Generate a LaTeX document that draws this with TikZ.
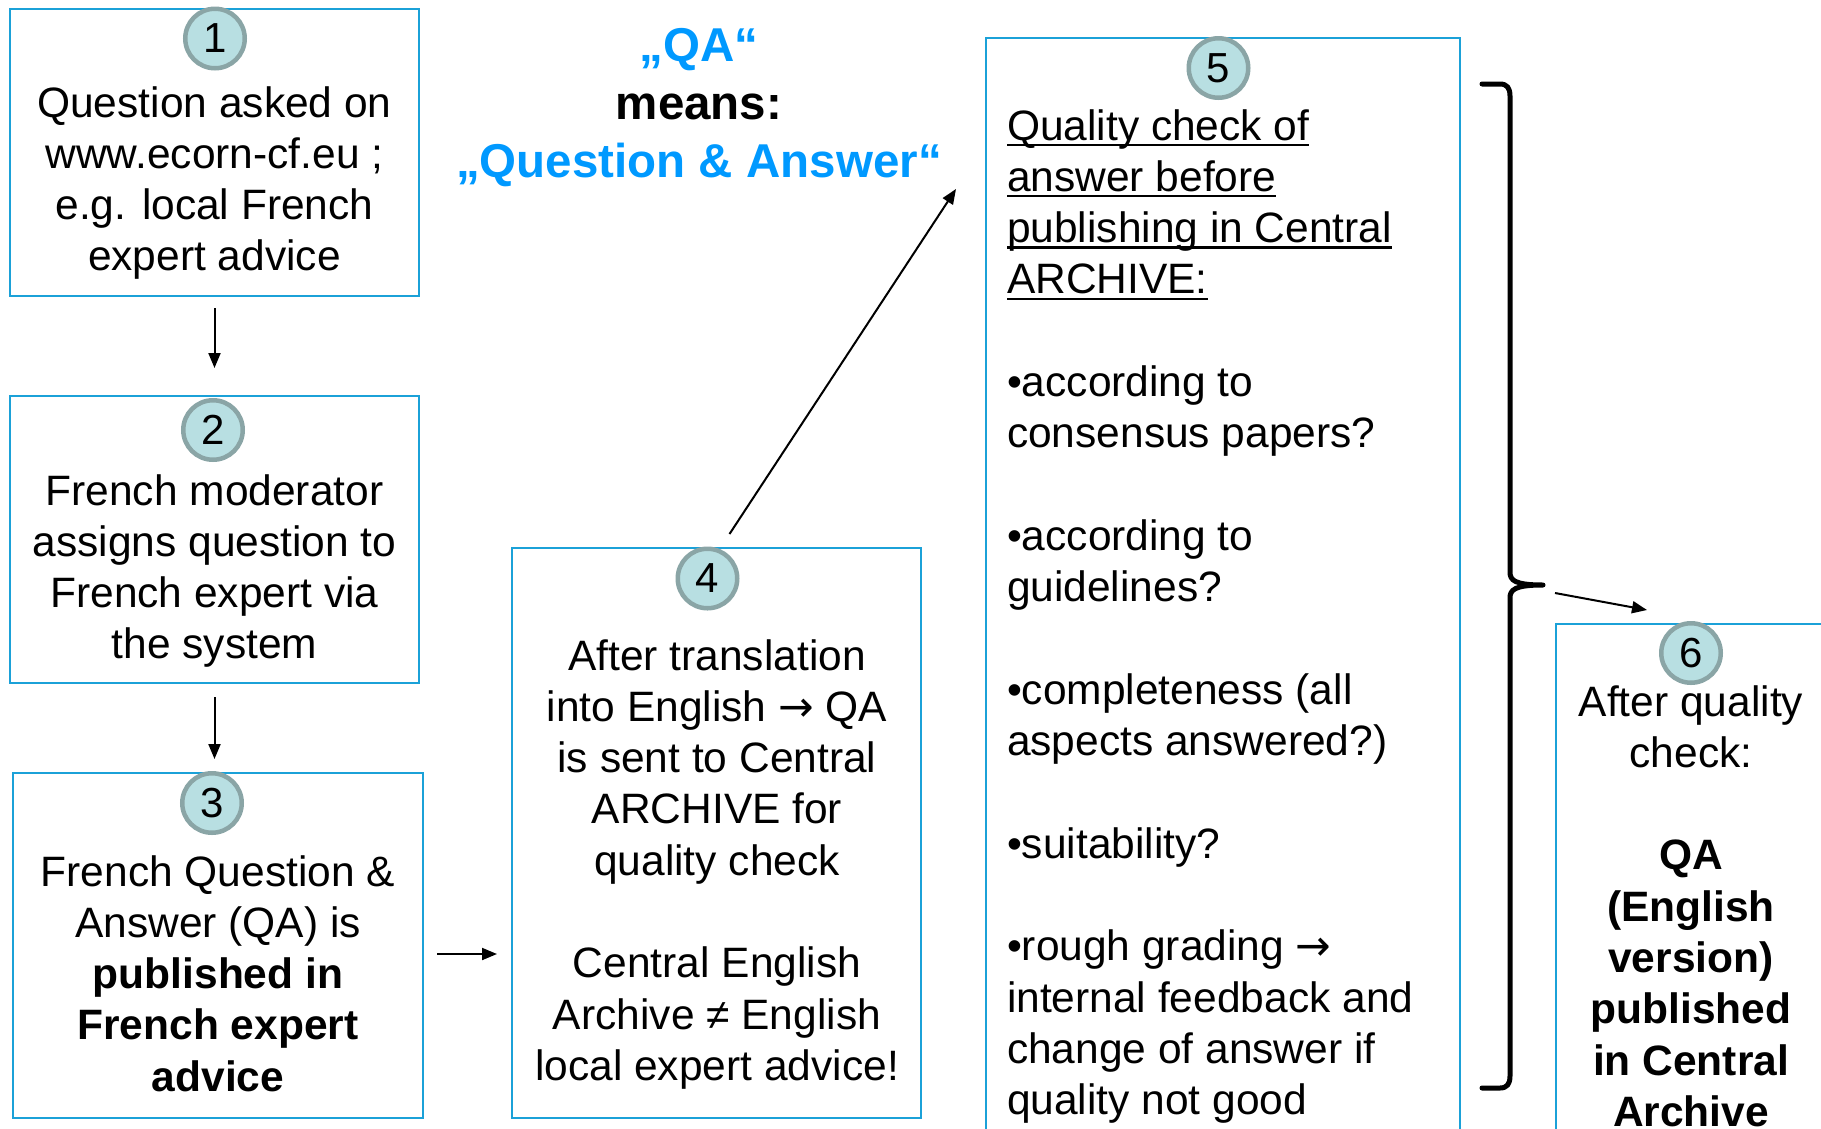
\documentclass[tikz,border=0pt]{standalone}
\usepackage{fontspec}
\setmainfont{Liberation Sans}
\newfontfamily\arrowfont{DejaVu Sans}
\usetikzlibrary{arrows.meta,calc}
\definecolor{boxblue}{HTML}{1BA1D8}
\definecolor{headblue}{HTML}{0099FF}
\definecolor{circfill}{HTML}{B8DFE2}
\definecolor{circline}{HTML}{8AA5A6}
\newcommand\bodyfont{\fontsize{42.5}{51.3}\selectfont}
\newcommand\headfont{\fontsize{47.5}{58}\selectfont\bfseries}
\newcommand\uln[1]{\setbox0\hbox{#1}\rlap{\rule[-6pt]{\wd0}{2.4pt}}\box0}
\newcommand\rarr{{\arrowfont →}}
\begin{document}
\begin{tikzpicture}[x=1pt,y=-1pt,
  box/.style={draw=boxblue,line width=2.5pt,fill=white,inner sep=0pt,outer sep=0pt,anchor=north west},
  num/.style={circle,draw=circline,fill=circfill,line width=4.5pt,minimum size=59.5pt,inner sep=0pt,outer sep=0pt,font=\fontsize{42}{42}\selectfont},
  txt/.style={inner sep=0pt,outer sep=0pt,anchor=base,font=\bodyfont},
  arr/.style={line width=2pt,-{Triangle[length=15pt,width=12pt]}},
  bracestyle/.style={line width=5pt,line cap=round,line join=round}]
\useasboundingbox (0,0) rectangle (1821,1128);

% boxes
\node[box,minimum width=409pt,minimum height=287pt] (b1) at (10,9) {};
\node[box,minimum width=409pt,minimum height=287pt] (b2) at (10,396) {};
\node[box,minimum width=410pt,minimum height=345pt] (b3) at (13,773) {};
\node[box,minimum width=409pt,minimum height=570pt] (b4) at (512,548) {};
\node[box,minimum width=474pt,minimum height=1110pt] (b5) at (986,38) {};
\node[box,minimum width=300pt,minimum height=520pt] (b6) at (1556,624) {};

% number circles
\node[num] (n1) at (215,38.5) {1};
\node[num] (n2) at (213,430) {2};
\node[num] (n3) at (212,803) {3};
\node[num] (n4) at (707.5,578.5) {4};
\node[num] (n5) at (1218.5,68) {5};
\node[num] (n6) at (1691,653) {6};

% heading
\node[inner sep=0pt,anchor=base,font=\headfont] (head) at (699,61)
  {\begin{tabular}[t]{@{}c@{}}{\color{headblue}„QA“}\\means:\\{\color{headblue}„Question \& Answer“}\end{tabular}};

% texts
\node[txt] (t1) at (214.5,117)
  {\begin{tabular}[t]{@{}c@{}}Question asked on\\www.ecorn-cf.eu ;\\e.g. local French\\expert advice\end{tabular}};
\node[txt] (t2) at (214.5,505)
  {\begin{tabular}[t]{@{}c@{}}French moderator\\assigns question to\\French expert via\\the system\end{tabular}};
\node[txt] (t3) at (218,886)
  {\begin{tabular}[t]{@{}c@{}}French Question \&\\Answer (QA) is\\\textbf{published in}\\\textbf{French expert}\\\textbf{advice}\end{tabular}};
\node[txt] (t4) at (717,670)
  {\begin{tabular}[t]{@{}c@{}}After translation\\into English \rarr{} QA\\is sent to Central\\ARCHIVE for\\quality check\\ \\Central English\\Archive ≠ English\\local expert advice!\end{tabular}};
\node[txt,anchor=base west] (t5) at (1007,140)
  {\begin{tabular}[t]{@{}l@{}}\uln{Quality check of}\\\uln{answer before}\\\uln{publishing in Central}\\\uln{ARCHIVE:}\\ \\•according to\\consensus papers?\\ \\•according to\\guidelines?\\ \\•completeness (all\\aspects answered?)\\ \\•suitability?\\ \\•rough grading \rarr\\internal feedback and\\change of answer if\\quality not good\end{tabular}};
\node[txt] (t6) at (1691,716)
  {\begin{tabular}[t]{@{}c@{}}After quality\\check:\\ \\\textbf{QA}\\\textbf{(English}\\\textbf{version)}\\\textbf{published}\\\textbf{in Central}\\\textbf{Archive}\end{tabular}};

% brace
\coordinate (brtip) at (1543,585);
\draw[bracestyle] (1482,84) -- (1500,84) .. controls (1507,84) and (1510,88) .. (1510,96)
  -- (1510,572) .. controls (1510,580) and (1514,585) .. (brtip)
  .. controls (1514,585) and (1510,590) .. (1510,598)
  -- (1510,1076) .. controls (1510,1084) and (1507,1088) .. (1500,1088) -- (1482,1088);

% connectors
\draw[arr,shorten <=12pt,shorten >=28pt] (b1.south) -- (b2.north);
\draw[arr,shorten <=14pt,shorten >=14pt] (b2.south) -- (b2.south |- b3.north);
\draw[arr,shorten <=14pt,shorten >=15pt] ($(b3.east)+(0,8.5)$) -- ($(b3.east -| b4.west)+(0,8.5)$);
\coordinate (s45) at ($(b4.north)+(13,-14)$);
\coordinate (e45) at ($(b5.north west)+(-30,151)$);
\draw[arr] (s45) -- (e45);
\coordinate (s56) at ($(brtip)+(12,8)$);
\coordinate (e56) at ($(b6.north west)+(91,-14)$);
\draw[arr] (s56) -- (e56);
\end{tikzpicture}
\end{document}
